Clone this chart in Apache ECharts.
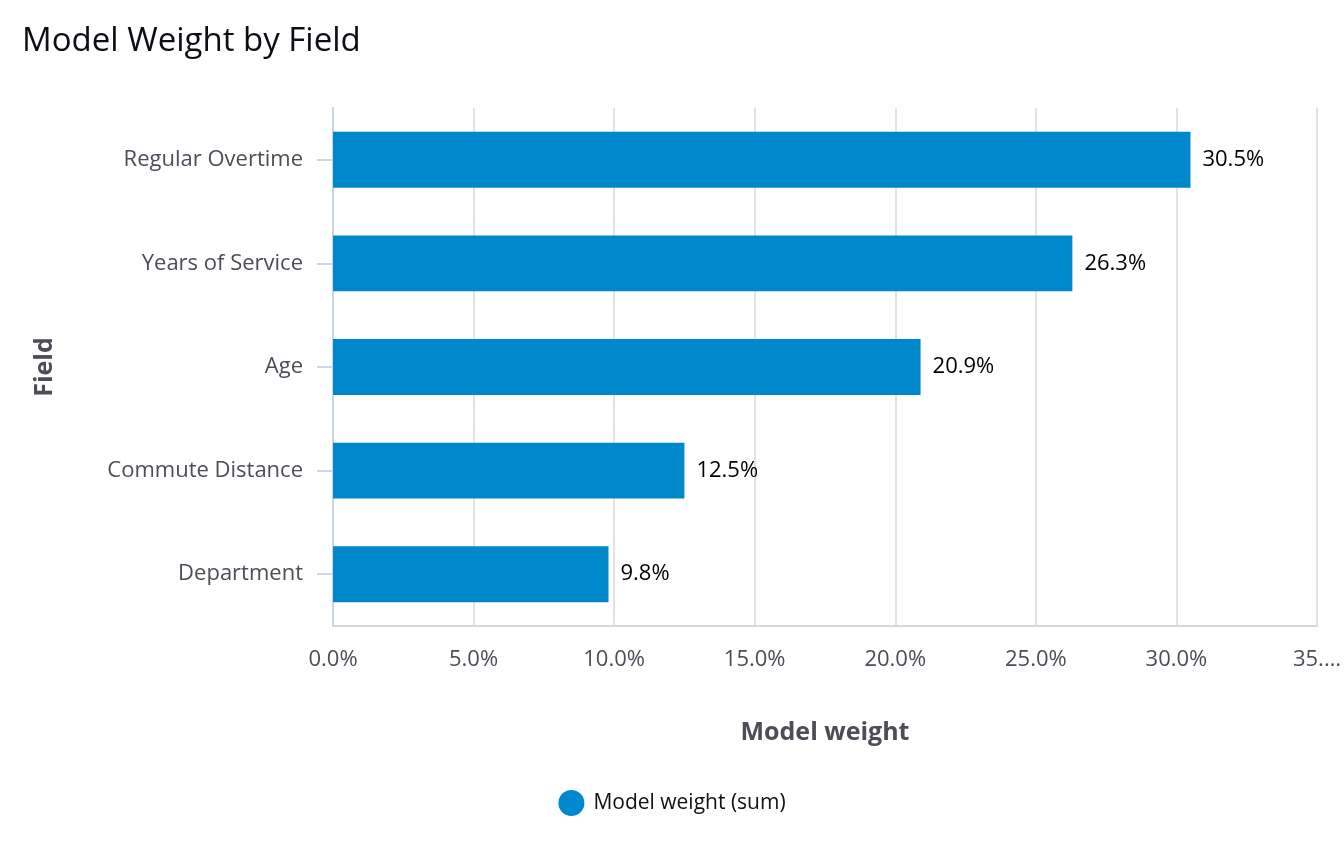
<!DOCTYPE html>
<html>
<head>
<meta charset="utf-8">
<script src="https://cdn.jsdelivr.net/npm/echarts@6/dist/echarts.min.js"></script>
<style>
html,body{margin:0;padding:0;background:#fff;}
#main{width:1344px;height:842px;}
</style>
</head>
<body>
<div id="main"></div>
<script>
const categories = ['Regular Overtime', 'Years of Service', 'Age', 'Commute Distance', 'Department'];
const values = [30.5, 26.3, 20.9, 12.5, 9.8];
const xTicks = { min: 0, max: 35, interval: 5 };
const seriesName = 'Model weight (sum)';

const chart = echarts.init(document.getElementById('main'), null, { renderer: 'canvas' });
const FONT = 'Open Sans';
chart.setOption({
  backgroundColor: '#ffffff',
  animation: false,
  title: {
    text: 'Model Weight by Field',
    left: 17, top: 20,
    textStyle: { fontFamily: FONT, fontSize: 33, fontWeight: 'normal', color: '#0d0d14' }
  },
  legend: {
    bottom: 21, left: 'center',
    icon: 'circle', itemWidth: 26, itemHeight: 26, itemGap: 10,
    textStyle: { fontFamily: FONT, fontSize: 21, color: '#111', padding: [0, 0, 0, 4] },
    data: [seriesName]
  },
  grid: { left: 333, right: 21, top: 108, bottom: 216, containLabel: false },
  xAxis: {
    type: 'value',
    min: xTicks.min, max: xTicks.max, interval: xTicks.interval,
    name: 'Model weight', nameLocation: 'middle', nameGap: 94,
    nameTextStyle: { fontFamily: FONT, fontSize: 25, fontWeight: 'bold', color: '#4d4d57' },
    axisLine: { show: true, lineStyle: { color: '#d8d8d8', width: 2 } },
    axisTick: { show: false },
    splitLine: { show: true, lineStyle: { color: '#e3e3e3', width: 2 } },
    axisLabel: {
      margin: 23, fontFamily: FONT, fontSize: 22, color: '#4d4d57',
      formatter: v => v === xTicks.max ? v + '.\u2026' : v.toFixed(1) + '%'
    }
  },
  yAxis: {
    type: 'category', inverse: true, data: categories,
    name: 'Field', nameLocation: 'middle', nameGap: 276, nameRotate: 90,
    nameTextStyle: { fontFamily: FONT, fontSize: 25, fontWeight: 'bold', color: '#4d4d57' },
    axisLine: { show: true, lineStyle: { color: '#ccd6eb', width: 2 } },
    axisTick: { show: true, alignWithLabel: true, length: 16, lineStyle: { color: '#ccd6eb', width: 2 } },
    axisLabel: { margin: 30, fontFamily: FONT, fontSize: 22, color: '#4d4d57' },
    splitLine: { show: false }
  },
  series: [{
    name: seriesName,
    type: 'bar',
    data: values,
    barCategoryGap: '46%',
    itemStyle: { color: '#0088cc' },
    label: {
      show: true, position: 'right', distance: 12,
      fontFamily: FONT, fontSize: 22, color: '#000',
      formatter: p => p.value.toFixed(1) + '%'
    }
  }]
});
</script>
</body>
</html>
